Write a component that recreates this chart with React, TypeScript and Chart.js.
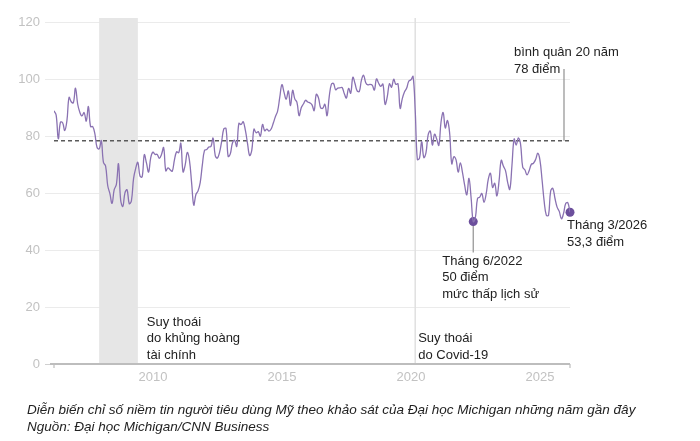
import React, { useEffect, useRef } from "react";
import { Chart, registerables } from "chart.js";

Chart.register(...registerables);

// Monthly University of Michigan consumer sentiment, Mar 2006 .. Mar 2026
const START_YEAR = 2006;
const START_MONTH = 3;
const sentiment: number[] = [
  // 2006 (Mar-Dec)
  88.9, 87.4, 79.1, 84.9, 84.7, 82.0, 85.4, 93.6, 92.1, 91.7,
  // 2007
  96.9, 91.3, 88.4, 87.1, 88.3, 85.3, 90.4, 83.4, 83.4, 80.9, 76.1, 75.5,
  // 2008
  78.4, 70.8, 69.5, 62.6, 59.8, 56.4, 61.2, 63.0, 70.3, 57.6, 55.3, 60.1,
  // 2009
  61.2, 56.3, 57.3, 65.1, 68.7, 70.8, 66.0, 65.7, 73.5, 70.6, 67.4, 72.5,
  // 2010
  74.4, 73.6, 73.6, 72.2, 73.6, 76.0, 67.8, 68.9, 68.2, 67.7, 71.6, 74.5,
  // 2011
  74.2, 77.5, 67.5, 69.8, 74.3, 71.5, 63.7, 55.8, 59.5, 60.8, 63.7, 69.9,
  // 2012
  75.0, 75.3, 76.2, 76.4, 79.3, 73.2, 72.3, 74.3, 78.3, 82.6, 82.7, 72.9,
  // 2013
  73.8, 77.6, 78.6, 76.4, 84.5, 84.1, 85.1, 82.1, 77.5, 73.2, 75.1, 82.5,
  // 2014
  81.2, 81.6, 80.0, 84.1, 81.9, 82.5, 81.8, 82.5, 84.6, 86.9, 88.8, 93.6,
  // 2015
  98.1, 95.4, 93.0, 95.9, 90.7, 96.1, 93.1, 91.9, 87.2, 90.0, 91.3, 92.6,
  // 2016
  92.0, 91.7, 91.0, 89.0, 94.7, 93.5, 90.0, 89.8, 91.2, 87.2, 93.8, 98.2,
  // 2017
  98.5, 96.3, 96.9, 97.0, 97.1, 95.0, 93.4, 96.8, 95.1, 100.7, 98.5, 95.9,
  // 2018
  95.7, 99.7, 101.4, 98.8, 98.0, 98.2, 97.9, 96.2, 100.1, 98.6, 97.5, 98.3,
  // 2019
  91.2, 93.8, 98.4, 97.2, 100.0, 98.2, 98.4, 89.8, 93.2, 95.5, 96.8, 99.3,
  // 2020
  99.8, 101.0, 89.1, 71.8, 72.3, 78.1, 72.5, 74.1, 80.4, 81.8, 76.9, 80.7,
  // 2021
  79.0, 76.8, 84.9, 88.3, 82.9, 85.5, 81.2, 70.3, 72.8, 71.7, 67.4, 70.6,
  // 2022
  67.2, 62.8, 59.4, 65.2, 58.4, 50.0, 51.5, 58.2, 58.6, 59.9, 56.8, 59.7,
  // 2023
  64.9, 67.0, 62.0, 63.5, 59.0, 64.2, 71.5, 69.5, 67.9, 63.8, 61.3, 69.7,
  // 2024
  79.0, 76.9, 79.4, 77.2, 69.1, 68.2, 66.4, 67.9, 70.1, 70.5, 71.8, 74.0,
  // 2025
  71.7, 64.7, 57.0, 52.2, 52.2, 60.7, 61.7, 58.2, 55.1, 53.6, 51.0, 52.9,
  // 2026
  56.4, 56.6, 53.3,
];

const yTicks = [0, 20, 40, 60, 80, 100, 120];
const xTicks = [2010, 2015, 2020, 2025];

const average20y = 78.4;
const recessionStart = 2007 + 11 / 12;
const recessionEnd = 2009 + 5 / 12;
const covidLine = 2020 + 2 / 12;

const lowPoint = { x: 2022 + 5 / 12, y: 50 };
const lastPoint = { x: 2026 + 2 / 12, y: 53.3 };

const avgLabel = ["bình quân 20 năm", "78 điểm"];
const recessionLabel = ["Suy thoái", "do khủng hoàng", "tài chính"];
const covidLabel = ["Suy thoái", "do Covid-19"];
const lowLabel = ["Tháng 6/2022", "50 điểm", "mức thấp lịch sử"];
const lastLabel = ["Tháng 3/2026", "53,3 điểm"];
const caption1 =
  "Diễn biến chỉ số niềm tin người tiêu dùng Mỹ theo khảo sát của Đại học Michigan những năm gần đây";
const caption2 = "Nguồn: Đại học Michigan/CNN Business";

const monthX = (i: number) => START_YEAR + (START_MONTH - 1 + i) / 12;

const FONT = '"Liberation Sans", Arial, sans-serif';

const overlay = {
  id: "overlay",
  beforeDatasetsDraw(chart: any) {
    const { ctx, chartArea } = chart;
    const xs = chart.scales.x;
    const ys = chart.scales.y;
    const bottom = ys.getPixelForValue(0);
    ctx.save();
    // recession shading
    const r0 = xs.getPixelForValue(recessionStart);
    const r1 = xs.getPixelForValue(recessionEnd);
    ctx.fillStyle = "#e6e6e6";
    ctx.fillRect(r0, chartArea.top, r1 - r0, bottom - chartArea.top);
    // covid line
    const cx = xs.getPixelForValue(covidLine);
    ctx.strokeStyle = "#e0e0e0";
    ctx.lineWidth = 1.5;
    ctx.beginPath();
    ctx.moveTo(cx, chartArea.top);
    ctx.lineTo(cx, bottom);
    ctx.stroke();
    // average dashed line
    const ay = ys.getPixelForValue(average20y);
    ctx.strokeStyle = "#5a5a5a";
    ctx.lineWidth = 1.4;
    ctx.setLineDash([4, 3]);
    ctx.beginPath();
    ctx.moveTo(chartArea.left, ay);
    ctx.lineTo(chartArea.right, ay);
    ctx.stroke();
    ctx.setLineDash([]);
    // average leader
    ctx.strokeStyle = "#999";
    ctx.lineWidth = 1.3;
    ctx.beginPath();
    ctx.moveTo(chartArea.right - 6, chartArea.top + 51);
    ctx.lineTo(chartArea.right - 6, ay);
    ctx.stroke();
    // low leader
    const lx = xs.getPixelForValue(lowPoint.x);
    const ly = ys.getPixelForValue(lowPoint.y);
    ctx.strokeStyle = "#999";
    ctx.beginPath();
    ctx.moveTo(lx, ly);
    ctx.lineTo(lx, ly + 31);
    ctx.stroke();
    // x axis line
    ctx.strokeStyle = "#bdbdbd";
    ctx.lineWidth = 2;
    ctx.beginPath();
    ctx.moveTo(chartArea.left - 4, bottom);
    ctx.lineTo(chartArea.right, bottom);
    ctx.stroke();
    ctx.lineWidth = 1.2;
    ctx.beginPath();
    ctx.moveTo(chartArea.left, bottom);
    ctx.lineTo(chartArea.left, bottom + 4);
    ctx.moveTo(chartArea.right, bottom);
    ctx.lineTo(chartArea.right, bottom + 4);
    ctx.stroke();
    ctx.restore();
  },
  afterDatasetsDraw(chart: any) {
    const { ctx, chartArea } = chart;
    const xs = chart.scales.x;
    const ys = chart.scales.y;
    const bottom = ys.getPixelForValue(0);
    ctx.save();
    ctx.font = `13px ${FONT}`;
    ctx.fillStyle = "#222";
    ctx.textBaseline = "middle";
    ctx.textAlign = "left";
    const lines = (arr: string[], x: number, y: number, gap: number) =>
      arr.forEach((t, i) => ctx.fillText(t, x, y + i * gap));
    lines(avgLabel, chartArea.right - 56, chartArea.top + 34, 17);
    lines(recessionLabel, xs.getPixelForValue(recessionEnd) + 9, bottom - 42, 16.5);
    lines(covidLabel, xs.getPixelForValue(covidLine) + 3, bottom - 25.5, 16.5);
    const lx = xs.getPixelForValue(lowPoint.x);
    const ly = ys.getPixelForValue(lowPoint.y);
    lines(lowLabel, lx - 31, ly + 39.5, 16.5);
    const px = xs.getPixelForValue(lastPoint.x);
    const py = ys.getPixelForValue(lastPoint.y);
    lines(lastLabel, px - 3, py + 13.5, 16.5);
    ctx.restore();
  },
};

export default function App() {
  const canvasRef = useRef<HTMLCanvasElement | null>(null);

  useEffect(() => {
    document.body.style.margin = "0";
    const canvas = canvasRef.current;
    if (!canvas) return;
    const chart = new Chart(canvas, {
      type: "line",
      data: {
        datasets: [
          {
            data: sentiment.map((v, i) => ({ x: monthX(i), y: v })),
            borderColor: "#8a72b2",
            borderWidth: 1.3,
            pointRadius: 0,
            tension: 0.4,
            fill: false,
          },
          {
            data: [lowPoint, lastPoint],
            showLine: false,
            pointRadius: 4.5,
            pointBackgroundColor: "#6c4f9c",
            pointBorderColor: "#6c4f9c",
            pointBorderWidth: 0,
            clip: false,
          },
        ],
      },
      options: {
        animation: false,
        responsive: false,
        devicePixelRatio: 1,
        layout: { padding: { left: 0, right: 130, top: 18, bottom: 47 } },
        plugins: {
          legend: { display: false },
          tooltip: { enabled: false },
        },
        scales: {
          x: {
            type: "linear",
            min: monthX(0),
            max: monthX(sentiment.length - 1),
            grid: { display: false, drawTicks: false, tickLength: 0 },
            border: { display: false },
            afterBuildTicks: (scale: any) => {
              scale.ticks = xTicks.map((v) => ({ value: v }));
            },
            afterFit: (scale: any) => {
              scale.height = 30;
            },
            ticks: {
              color: "#c2c2c2",
              font: { family: FONT, size: 13 },
              padding: 6,
              maxRotation: 0,
              autoSkip: false,
              callback: (v: any) => String(v),
            },
          },
          y: {
            min: 0,
            max: 121.5,
            afterBuildTicks: (scale: any) => {
              scale.ticks = yTicks.map((v) => ({ value: v }));
            },
            afterFit: (scale: any) => {
              scale.width = 54;
            },
            grid: {
              color: (c: any) => (c.tick && c.tick.value === 0 ? "#d0d0d0" : "#ebebeb"),
              lineWidth: 1,
              tickLength: 9,
            },
            border: { display: false },
            ticks: {
              color: "#c2c2c2",
              font: { family: FONT, size: 13 },
              padding: 5,
              callback: (v: any) => String(v),
            },
          },
        },
      },
      plugins: [overlay],
    });
    return () => chart.destroy();
  }, []);

  return (
    <div
      style={{
        position: "absolute",
        left: 0,
        top: 0,
        width: 700,
        height: 441,
        background: "#fff",
        overflow: "hidden",
      }}
    >
      <canvas ref={canvasRef} width={700} height={441} style={{ display: "block" }} />
      <div
        style={{
          position: "absolute",
          left: 27,
          top: 401,
          fontFamily: FONT,
          fontStyle: "italic",
          fontSize: 13.5,
          lineHeight: "17px",
          color: "#222",
          whiteSpace: "nowrap",
        }}
      >
        <div>{caption1}</div>
        <div>{caption2}</div>
      </div>
    </div>
  );
}
